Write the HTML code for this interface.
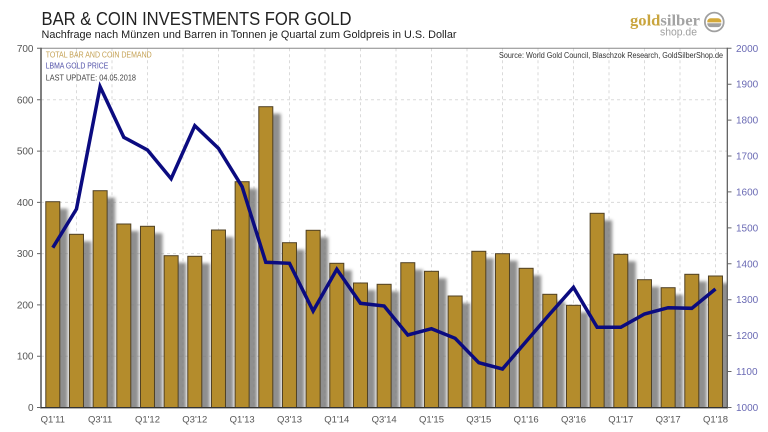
<!DOCTYPE html>
<html><head><meta charset="utf-8"><style>
html,body{margin:0;padding:0;background:#fff;}
svg{display:block;}
</style></head><body>
<svg width="768" height="432" viewBox="0 0 768 432" xmlns="http://www.w3.org/2000/svg" font-family="'Liberation Sans', sans-serif">
<defs>
<filter id="blur" x="-50%" y="-10%" width="200%" height="120%"><feGaussianBlur stdDeviation="1.6"/></filter>
<clipPath id="plot"><rect x="41" y="48.3" width="686.3" height="359.2"/></clipPath>
<g id="bars">
<rect x="45.8" y="201.7" width="14" height="205.8"/>
<rect x="69.47" y="234.3" width="14" height="173.2"/>
<rect x="93.13" y="190.7" width="14" height="216.8"/>
<rect x="116.8" y="224" width="14" height="183.5"/>
<rect x="140.47" y="226.3" width="14" height="181.2"/>
<rect x="164.13" y="255.7" width="14" height="151.8"/>
<rect x="187.8" y="256.3" width="14" height="151.2"/>
<rect x="211.47" y="230" width="14" height="177.5"/>
<rect x="235.13" y="181.7" width="14" height="225.8"/>
<rect x="258.8" y="106.7" width="14" height="300.8"/>
<rect x="282.47" y="242.7" width="14" height="164.8"/>
<rect x="306.13" y="230.3" width="14" height="177.2"/>
<rect x="329.8" y="263.3" width="14" height="144.2"/>
<rect x="353.47" y="283" width="14" height="124.5"/>
<rect x="377.13" y="284.3" width="14" height="123.2"/>
<rect x="400.8" y="262.7" width="14" height="144.8"/>
<rect x="424.47" y="271.3" width="14" height="136.2"/>
<rect x="448.13" y="296" width="14" height="111.5"/>
<rect x="471.8" y="251.3" width="14" height="156.2"/>
<rect x="495.47" y="253.7" width="14" height="153.8"/>
<rect x="519.13" y="268.3" width="14" height="139.2"/>
<rect x="542.8" y="294.3" width="14" height="113.2"/>
<rect x="566.47" y="305.3" width="14" height="102.2"/>
<rect x="590.13" y="213.3" width="14" height="194.2"/>
<rect x="613.8" y="254.3" width="14" height="153.2"/>
<rect x="637.47" y="279.7" width="14" height="127.8"/>
<rect x="661.13" y="287.7" width="14" height="119.8"/>
<rect x="684.8" y="274.3" width="14" height="133.2"/>
<rect x="708.47" y="276" width="14" height="131.5"/>
</g>
</defs>

<!-- Title -->
<text x="41.5" y="25" font-size="18" fill="#222" textLength="310" lengthAdjust="spacingAndGlyphs">BAR &amp; COIN INVESTMENTS FOR GOLD</text>
<text x="41.5" y="38" font-size="11" fill="#222" textLength="415" lengthAdjust="spacingAndGlyphs">Nachfrage nach Münzen und Barren in Tonnen je Quartal zum Goldpreis in U.S. Dollar</text>

<!-- Logo -->
<text x="630" y="25.5" font-family="'Liberation Serif', serif" font-weight="bold" font-size="16" textLength="70" lengthAdjust="spacingAndGlyphs"><tspan fill="#c9a53e">gold</tspan><tspan fill="#a3a3a3">silber</tspan></text>
<text x="660" y="35.5" font-size="11" fill="#a0a0a0" textLength="37" lengthAdjust="spacingAndGlyphs">shop.de</text>
<circle cx="714.3" cy="22" r="9.4" fill="#fff" stroke="#a0a0a0" stroke-width="1.8"/>
<path d="M707.3 22.4 V21.5 a3.2 3.2 0 0 1 3.2 -3.2 h7.6 a3.2 3.2 0 0 1 3.2 3.2 V22.4 Z" fill="#d4a93a"/>
<path d="M707.3 23.2 V23.9 a3.2 3.2 0 0 0 3.2 3.2 h7.6 a3.2 3.2 0 0 0 3.2 -3.2 V23.2 Z" fill="#a0a0a0"/>

<!-- Grid -->
<g stroke="#dadada" stroke-width="1" stroke-dasharray="3,3" fill="none">
<path d="M41 356.2H727.3M41 304.9H727.3M41 253.6H727.3M41 202.4H727.3M41 151.1H727.3M41 99.8H727.3"/>
<path d="M76.5 48.3V407.5M112 48.3V407.5M147.5 48.3V407.5M183 48.3V407.5M218.5 48.3V407.5M254 48.3V407.5M289.5 48.3V407.5M325 48.3V407.5M360.5 48.3V407.5M396 48.3V407.5M431.5 48.3V407.5M467 48.3V407.5M502.5 48.3V407.5M538 48.3V407.5M573.5 48.3V407.5M609 48.3V407.5M644.5 48.3V407.5M680 48.3V407.5M715.5 48.3V407.5"/>
</g>

<!-- Shadows -->
<g clip-path="url(#plot)">
<use href="#bars" fill="#7c7c7c" opacity="0.85" transform="translate(8,7)" filter="url(#blur)"/>
</g>
<!-- Bars -->
<use href="#bars" fill="#b48c2c" stroke="#4f4024" stroke-width="1"/>

<!-- Gold price line -->
<polyline fill="none" stroke="#0b0b80" stroke-width="3.5" stroke-linejoin="miter" stroke-miterlimit="4" points="52.8,247.7 76.47,209 100.13,86.7 123.8,137.3 147.47,150 171.13,178.7 194.8,125.7 218.47,148.3 242.13,186.7 265.8,262.3 289.47,263.3 313.13,311 336.8,269.3 360.47,303.3 384.13,306 407.8,335 431.47,328.7 455.13,338.3 478.8,362.7 502.47,369 526.13,341.5 549.8,314 573.47,287.3 597.13,327.3 620.8,327.3 644.47,314 668.13,307.7 691.8,308.3 715.47,289"/>

<!-- Axes frame -->
<path d="M41 48.3H727.3" stroke="#888" stroke-width="1" fill="none"/>
<path d="M41 47.8V408.3" stroke="#555" stroke-width="1.5" fill="none"/>
<path d="M727.3 47.8V408.3" stroke="#555" stroke-width="1.2" fill="none"/>
<path d="M40.3 407.7H728" stroke="#333" stroke-width="1.3" fill="none"/>
<g stroke="#666" stroke-width="1">
<path d="M37 48.3H41M37 99.8H41M37 151.1H41M37 202.4H41M37 253.6H41M37 304.9H41M37 356.2H41M37 407.5H41"/>
<path d="M727.3 48.3H731.5M727.3 84.2H731.5M727.3 120.1H731.5M727.3 156H731.5M727.3 191.9H731.5M727.3 227.9H731.5M727.3 263.8H731.5M727.3 299.7H731.5M727.3 335.6H731.5M727.3 371.5H731.5M727.3 407.5H731.5"/>
</g>

<!-- Left labels -->
<g font-size="10" fill="#555" text-anchor="end">
<text x="33.5" y="52">700</text>
<text x="33.5" y="103.3">600</text>
<text x="33.5" y="154.6">500</text>
<text x="33.5" y="205.9">400</text>
<text x="33.5" y="257.1">300</text>
<text x="33.5" y="308.4">200</text>
<text x="33.5" y="359.7">100</text>
<text x="33.5" y="411">0</text>
</g>
<!-- Right labels -->
<g font-size="10" fill="#6a6ab4">
<text x="736" y="51.8">2000</text>
<text x="736" y="87.7">1900</text>
<text x="736" y="123.6">1800</text>
<text x="736" y="159.5">1700</text>
<text x="736" y="195.4">1600</text>
<text x="736" y="231.4">1500</text>
<text x="736" y="267.3">1400</text>
<text x="736" y="303.2">1300</text>
<text x="736" y="339.1">1200</text>
<text x="736" y="375">1100</text>
<text x="736" y="411">1000</text>
</g>
<!-- X labels -->
<g font-size="9.5" fill="#555" text-anchor="middle">
<text x="52.8" y="422.5">Q1'11</text>
<text x="100.13" y="422.5">Q3'11</text>
<text x="147.47" y="422.5">Q1'12</text>
<text x="194.8" y="422.5">Q3'12</text>
<text x="242.13" y="422.5">Q1'13</text>
<text x="289.47" y="422.5">Q3'13</text>
<text x="336.8" y="422.5">Q1'14</text>
<text x="384.13" y="422.5">Q3'14</text>
<text x="431.47" y="422.5">Q1'15</text>
<text x="478.8" y="422.5">Q3'15</text>
<text x="526.13" y="422.5">Q1'16</text>
<text x="573.47" y="422.5">Q3'16</text>
<text x="620.8" y="422.5">Q1'17</text>
<text x="668.13" y="422.5">Q3'17</text>
<text x="715.47" y="422.5">Q1'18</text>
</g>

<!-- Legend -->
<text x="45.7" y="57.5" font-size="8" fill="#c4a052" textLength="106" lengthAdjust="spacingAndGlyphs">TOTAL BAR AND COIN DEMAND</text>
<text x="45.7" y="68.5" font-size="8" fill="#5050a8" textLength="62.6" lengthAdjust="spacingAndGlyphs">LBMA GOLD PRICE</text>
<text x="45.7" y="80.5" font-size="8" fill="#444" textLength="90.3" lengthAdjust="spacingAndGlyphs">LAST UPDATE: 04.05.2018</text>

<!-- Source -->
<text x="499" y="58" font-size="8" fill="#333" textLength="224" lengthAdjust="spacingAndGlyphs">Source: World Gold Council, Blaschzok Research, GoldSilberShop.de</text>
</svg>
</body></html>
